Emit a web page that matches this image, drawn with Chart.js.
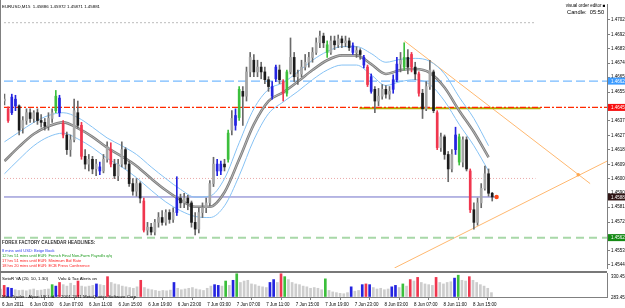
<!DOCTYPE html>
<html>
<head>
<meta charset="utf-8">
<script src="https://cdn.jsdelivr.net/npm/chart.js@4.4.0/dist/chart.umd.min.js"></script>
<style>
  html, body { margin: 0; padding: 0; background: #fff; }
  #wrap { position: relative; width: 625px; height: 308px; overflow: hidden; background: #fff; }
  canvas { position: absolute; left: 0; }
  #main { top: 0; }
  #vol { top: 272px; }
  .t { position: absolute; white-space: nowrap; font-family: "Liberation Sans", Arial, sans-serif;
       font-size: 9px; line-height: 9px; transform: scale(0.5); transform-origin: 0 0; color: #000; }
  .r { transform-origin: 100% 0; }
  .line { position: absolute; background: #808080; }
</style>
</head>
<body>
<div id="wrap">
  <canvas id="main" width="625" height="272"></canvas>
  <canvas id="vol" width="625" height="36"></canvas>
  <div class="line" style="left:0;top:0;width:1px;height:297px;"></div>
  <div class="line" style="left:0;top:271px;width:607px;height:2px;background:#787878;"></div>

  <div class="t" style="left:2px;top:3.5px;font-size:8.8px;">EURUSD,M15&nbsp; 1.45886 1.45972 1.45871 1.45881</div>
  <div class="t r" style="right:20px;top:3px;">visual order editor &#9632;</div>
  <div class="t r" style="right:21px;top:8.6px;font-size:11.4px;line-height:11.4px;">Candle:&nbsp; 05:50</div>

  <div class="t" style="left:2px;top:239.8px;font-weight:bold;color:#333;">FOREX FACTORY CALENDAR HEADLINES:</div>
  <div class="t" style="left:2px;top:248px;font-size:8px;color:#2a3cf0;">8 mins until USD: Beige Book</div>
  <div class="t" style="left:2px;top:253px;font-size:8px;color:#1a9a1a;">12 hrs 51 mins until EUR: French Final Non-Farm Payrolls q/q</div>
  <div class="t" style="left:2px;top:258px;font-size:8px;color:#ff1a1a;">17 hrs 51 mins until EUR: Minimum Bid Rate</div>
  <div class="t" style="left:2px;top:263px;font-size:8px;color:#ff1a1a;">18 hrs 20 mins until EUR: ECB Press Conference</div>

  <div class="t" style="left:2px;top:275.8px;font-size:8.8px;">SetoR VA (20, 10, 1.30)</div>
  <div class="t" style="left:58px;top:275.8px;font-size:8.8px;">Volu &amp; Tax Alerts on</div>
  <div class="t" style="left:2px;top:293.8px;font-size:8.8px;">MetaTrader - Alpari UK Ltd. &copy; 2001-2011 MetaQuotes Software Corp.</div>
  <div class="t" style="left:611px;top:273.8px;">330.45</div>
  <div class="t" style="left:611px;top:294.5px;">283.45</div>
</div>

<script>
// price axis labels as shown by the terminal
const priceTicks = [1.47020, 1.46925, 1.46835, 1.46740, 1.46650, 1.46555, 1.46460, 1.46370, 1.46275,
  1.46185, 1.46090, 1.46000, 1.45905, 1.45815, 1.45720, 1.45625, 1.45535, 1.45445];

// time axis: hours from 6 Jun 00:00
const timeTicks = [-0.8, 3, 7, 11, 15, 19, 23, 27, 31, 35, 39, 43, 47, 51, 55, 59, 63];
const timeLabels = ["6 Jun 2011", "6 Jun 03:00", "6 Jun 07:00", "6 Jun 11:00", "6 Jun 15:00", "6 Jun 19:00",
  "6 Jun 23:00", "7 Jun 03:00", "7 Jun 07:00", "7 Jun 11:00", "7 Jun 15:00", "7 Jun 19:00", "7 Jun 23:00",
  "8 Jun 03:00", "8 Jun 07:00", "8 Jun 11:00", "8 Jun 15:00"];

// candles, one every half hour starting 5 Jun 23:00
const firstBarHour = -1;
const barStep = 0.5;

const open = [
  1.46497, 1.46447, 1.46422, 1.46509, 1.46466, 1.46323, 1.46372, 1.46422, 1.46385, 1.46422,
  1.46372, 1.46360, 1.46335, 1.46385, 1.46435, 1.46516, 1.46354, 1.46279, 1.46185, 1.46248,
  1.46422, 1.46341, 1.46142, 1.46092, 1.46123, 1.46061, 1.46074, 1.46048, 1.46123, 1.46185,
  1.46092, 1.46017, 1.46092, 1.46185, 1.46092, 1.45967, 1.45918, 1.45967, 1.45855, 1.45668,
  1.45687, 1.45656, 1.45718, 1.45749, 1.45718, 1.45781, 1.45737, 1.45781, 1.45874, 1.45843,
  1.45874, 1.45843, 1.45718, 1.45675, 1.45781, 1.45812, 1.45843, 1.45967, 1.46092, 1.46048,
  1.46092, 1.46123, 1.46310, 1.46404, 1.46391, 1.46559, 1.46528, 1.46684, 1.46759, 1.46684,
  1.46715, 1.46684, 1.46634, 1.46590, 1.46640, 1.46696, 1.46622, 1.46547, 1.46684, 1.46777,
  1.46653, 1.46671, 1.46715, 1.46746, 1.46777, 1.46809, 1.46871, 1.46914, 1.46858, 1.46809,
  1.46883, 1.46858, 1.46896, 1.46871, 1.46883, 1.46852, 1.46809, 1.46821, 1.46777, 1.46715,
  1.46653, 1.46572, 1.46497, 1.46528, 1.46572, 1.46541, 1.46572, 1.46634, 1.46734, 1.46715,
  1.46777, 1.46796, 1.46715, 1.46671, 1.46547, 1.46447, 1.46590, 1.46684, 1.46422, 1.46198,
  1.46267, 1.46154, 1.46061, 1.46185, 1.46267, 1.46105, 1.46248, 1.46048, 1.45799, 1.45718,
  1.45843, 1.45936, 1.46030, 1.45905];

const high = [
  1.46541, 1.46460, 1.46541, 1.46534, 1.46472, 1.46397, 1.46447, 1.46447, 1.46435, 1.46447,
  1.46410, 1.46385, 1.46422, 1.46447, 1.46565, 1.46534, 1.46372, 1.46298, 1.46279, 1.46509,
  1.46497, 1.46360, 1.46185, 1.46154, 1.46142, 1.46123, 1.46105, 1.46154, 1.46235, 1.46229,
  1.46123, 1.46123, 1.46235, 1.46198, 1.46111, 1.45999, 1.45999, 1.45979, 1.45874, 1.45718,
  1.45712, 1.45737, 1.45781, 1.45793, 1.45799, 1.45799, 1.45812, 1.46011, 1.45899, 1.45905,
  1.45892, 1.45855, 1.45781, 1.45812, 1.45843, 1.45874, 1.45986, 1.46136, 1.46123, 1.46111,
  1.46123, 1.46310, 1.46435, 1.46447, 1.46590, 1.46590, 1.46715, 1.46809, 1.46796, 1.46759,
  1.46746, 1.46715, 1.46653, 1.46622, 1.46728, 1.46728, 1.46634, 1.46696, 1.46902, 1.46809,
  1.46696, 1.46759, 1.46796, 1.46809, 1.46840, 1.46902, 1.46946, 1.46933, 1.46883, 1.46914,
  1.46914, 1.46921, 1.46914, 1.46914, 1.46902, 1.46871, 1.46846, 1.46833, 1.46790, 1.46728,
  1.46671, 1.46590, 1.46578, 1.46603, 1.46597, 1.46590, 1.46665, 1.46777, 1.46809, 1.46871,
  1.46827, 1.46809, 1.46746, 1.46684, 1.46572, 1.46622, 1.46759, 1.46696, 1.46435, 1.46291,
  1.46279, 1.46173, 1.46185, 1.46329, 1.46285, 1.46267, 1.46267, 1.46061, 1.45843, 1.45874,
  1.45967, 1.46080, 1.46061, 1.45911];

const low = [
  1.46472, 1.46360, 1.46410, 1.46435, 1.46279, 1.46291, 1.46347, 1.46360, 1.46360, 1.46347,
  1.46329, 1.46310, 1.46310, 1.46360, 1.46422, 1.46397, 1.46260, 1.46154, 1.46142, 1.46235,
  1.46323, 1.46123, 1.46061, 1.46048, 1.46030, 1.46017, 1.46024, 1.46036, 1.46105, 1.46074,
  1.45999, 1.45986, 1.46074, 1.46061, 1.45948, 1.45892, 1.45886, 1.45843, 1.45656, 1.45637,
  1.45637, 1.45637, 1.45687, 1.45700, 1.45700, 1.45712, 1.45718, 1.45762, 1.45812, 1.45812,
  1.45799, 1.45687, 1.45637, 1.45650, 1.45749, 1.45781, 1.45824, 1.45948, 1.46017, 1.46024,
  1.46048, 1.46105, 1.46279, 1.46310, 1.46372, 1.46341, 1.46497, 1.46653, 1.46653, 1.46653,
  1.46640, 1.46609, 1.46559, 1.46509, 1.46622, 1.46609, 1.46497, 1.46528, 1.46671, 1.46622,
  1.46603, 1.46653, 1.46696, 1.46715, 1.46746, 1.46796, 1.46840, 1.46840, 1.46777, 1.46796,
  1.46827, 1.46840, 1.46840, 1.46846, 1.46821, 1.46796, 1.46777, 1.46765, 1.46709, 1.46590,
  1.46547, 1.46422, 1.46466, 1.46509, 1.46516, 1.46509, 1.46547, 1.46622, 1.46684, 1.46696,
  1.46671, 1.46684, 1.46634, 1.46528, 1.46385, 1.46435, 1.46572, 1.46422, 1.46185, 1.46173,
  1.46123, 1.45979, 1.46042, 1.46154, 1.46086, 1.46074, 1.46048, 1.45781, 1.45675, 1.45700,
  1.45812, 1.45924, 1.45886, 1.45855];

const close = [
  1.46509, 1.46372, 1.46522, 1.46466, 1.46310, 1.46372, 1.46422, 1.46385, 1.46422, 1.46372,
  1.46360, 1.46335, 1.46385, 1.46422, 1.46528, 1.46422, 1.46279, 1.46185, 1.46248, 1.46435,
  1.46341, 1.46142, 1.46092, 1.46123, 1.46061, 1.46092, 1.46048, 1.46123, 1.46204, 1.46092,
  1.46017, 1.46092, 1.46185, 1.46092, 1.45967, 1.45918, 1.45967, 1.45874, 1.45668, 1.45687,
  1.45656, 1.45718, 1.45749, 1.45718, 1.45781, 1.45737, 1.45781, 1.45874, 1.45843, 1.45874,
  1.45843, 1.45718, 1.45675, 1.45781, 1.45812, 1.45843, 1.45967, 1.46092, 1.46048, 1.46092,
  1.46074, 1.46291, 1.46385, 1.46341, 1.46572, 1.46528, 1.46684, 1.46777, 1.46684, 1.46715,
  1.46684, 1.46634, 1.46590, 1.46528, 1.46715, 1.46634, 1.46547, 1.46684, 1.46777, 1.46653,
  1.46671, 1.46715, 1.46746, 1.46777, 1.46809, 1.46871, 1.46914, 1.46871, 1.46809, 1.46883,
  1.46858, 1.46896, 1.46871, 1.46883, 1.46840, 1.46809, 1.46821, 1.46796, 1.46728, 1.46603,
  1.46559, 1.46497, 1.46528, 1.46572, 1.46541, 1.46559, 1.46634, 1.46734, 1.46759, 1.46777,
  1.46715, 1.46715, 1.46671, 1.46547, 1.46447, 1.46590, 1.46696, 1.46435, 1.46198, 1.46267,
  1.46154, 1.46061, 1.46154, 1.46279, 1.46105, 1.46248, 1.46061, 1.45799, 1.45718, 1.45843,
  1.45936, 1.46030, 1.45905, 1.45881];

// volume analysis colour of each bar: n normal, b blue, g green, r red
const barColor = ("nrbbnnnnnn" + "nnnngbrnnn" + "nrnnnnbnnr" + "nnnnnnnnrn" + "nnnnnnnbnn" +
  "nnnnnnnnbb" + "ngnbgnnnnn" + "nnnbbnrgnn" + "nnnnnnnngn" + "nnnnnbnnbr" +
  "bnnnnnbbng" + "nrnrnnnnrn" + "nnnbgnnrnn" + "nnnn").split("");

const volume = [
  110, 160, 130, 120, 100, 90, 95, 85, 100, 110,
  90, 95, 105, 110, 170, 150, 200, 170, 150, 190,
  160, 220, 150, 140, 150, 160, 180, 170, 160, 280,
  200, 180, 170, 150, 140, 130, 120, 140, 230, 130,
  110, 100, 90, 80, 90, 85, 95, 200, 120, 100,
  110, 120, 130, 110, 100, 90, 120, 150, 170, 160,
  150, 220, 160, 230, 320, 200, 220, 230, 180, 170,
  150, 140, 130, 200, 240, 200, 320, 280, 240, 200,
  180, 170, 150, 140, 120, 130, 120, 100, 250, 90,
  70, 60, 50, 45, 60, 140, 80, 90, 170, 180,
  170, 130, 110, 120, 100, 110, 140, 160, 130, 180,
  150, 240, 220, 270, 200, 180, 170, 160, 270, 200,
  180, 200, 210, 260, 300, 230, 220, 280, 230, 200,
  170, 150, 120, 60];

// moving average and its bands, read every two hours
const maHours = [-1, 1, 3, 5, 7, 9, 11, 13, 15, 17, 19, 21, 23, 25, 27, 29, 31, 33, 35, 37, 39, 41, 43,
  45, 47, 49, 51, 53, 55, 57, 59, 61, 63, 65];
const maMid = [1.46111, 1.46204, 1.46285, 1.46335, 1.46360, 1.46323, 1.46267, 1.46198, 1.46142, 1.46080,
  1.45999, 1.45924, 1.45862, 1.45818, 1.45818, 1.45911, 1.46123, 1.46347, 1.46497, 1.46553, 1.46622,
  1.46696, 1.46759, 1.46790, 1.46790, 1.46734, 1.46671, 1.46696, 1.46703, 1.46678, 1.46584, 1.46435,
  1.46298, 1.46136];
const maUpper = [1.46235, 1.46298, 1.46360, 1.46404, 1.46422, 1.46391, 1.46329, 1.46260, 1.46210, 1.46154,
  1.46074, 1.45999, 1.45930, 1.45880, 1.45887, 1.45999, 1.46229, 1.46447, 1.46572, 1.46615, 1.46684,
  1.46759, 1.46815, 1.46846, 1.46846, 1.46802, 1.46746, 1.46765, 1.46771, 1.46752, 1.46671, 1.46522,
  1.46385, 1.46210];
const maLower = [1.46030, 1.46123, 1.46210, 1.46267, 1.46291, 1.46254, 1.46198, 1.46129, 1.46074, 1.46005,
  1.45924, 1.45849, 1.45793, 1.45756, 1.45749, 1.45824, 1.46017, 1.46248, 1.46416, 1.46491, 1.46559,
  1.46634, 1.46696, 1.46728, 1.46728, 1.46665, 1.46597, 1.46622, 1.46634, 1.46603, 1.46497, 1.46347,
  1.46210, 1.46048];

// horizontal levels and drawn objects
const levelTop = 1.47000;
const levelBlue = 1.46625;
const levelRed = 1.46456;
const levelOlive = 1.46450;
const levelRound = 1.46000;
const bidPrice = 1.45881;
const levelGreen = 1.45620;
const dottedEndHour = 71.4;
const oliveHours = [47.4, 72.1];
const trendDownHours = [53.52, 78.85];
const trendDownPrices = [1.46883, 1.45967];
const trendUpHours = [52.17, 81.15];
const trendUpPrices = [1.45425, 1.46111];
const crossPoint = { x: 77.23, y: 1.46024 };
const lastPoint = { x: 66.1, y: 1.45881 };

const xMin = -1.063, xMax = 81.15;
const yMin = 1.45425, yMax = 1.47120;
const volMax = 330.45;

const barHours = close.map((c, i) => firstBarHour + i * barStep);
const colorOf = { b: "#2424e0", g: "#3cbf3c", r: "#f0364e" };
const font = { family: "Liberation Sans", size: 4.5 };

function bodyColor(i) {
  if (barColor[i] !== "n") return colorOf[barColor[i]];
  return close[i] >= open[i] ? "#a6a6a6" : "#1c1c1c";
}
function wickColor(i) {
  return barColor[i] !== "n" ? colorOf[barColor[i]] : "#6a6a6a";
}
function hLine(value, x0, x1, color, width, dash) {
  return {
    type: "line", data: [{ x: x0, y: value }, { x: x1, y: value }],
    borderColor: color, borderWidth: width, borderDash: dash, pointRadius: 0, order: 6
  };
}
function band(values, color, width, order) {
  return {
    type: "line", data: maHours.map((h, i) => ({ x: h, y: values[i] })),
    borderColor: color, borderWidth: width, pointRadius: 0, cubicInterpolationMode: "monotone", order: order
  };
}

const priceBoxes = [
  { v: levelBlue, c: "#3d9cff" },
  { v: levelRed, c: "#f81010" },
  { v: bidPrice, c: "#2e1414" },
  { v: levelGreen, c: "#148a14" }
];

const boxPlugin = {
  id: "priceBoxes",
  afterDraw(chart) {
    const ctx = chart.ctx;
    const y = chart.scales.y;
    const right = chart.chartArea.right;
    ctx.save();
    priceBoxes.forEach((b) => {
      const py = y.getPixelForValue(b.v);
      ctx.fillStyle = b.c;
      ctx.fillRect(right + 1, py - 3.5, 625 - right, 7);
      ctx.fillStyle = "#fff";
      ctx.font = "4.5px 'Liberation Sans'";
      ctx.textBaseline = "middle";
      ctx.fillText(b.v.toFixed(5), right + 4, py + 0.5);
    });
    ctx.restore();
  }
};

new Chart(document.getElementById("main"), {
  type: "bar",
  data: {
    datasets: [
      {
        data: barHours.map((x, i) => ({ x: x, y: [open[i], close[i]] })),
        backgroundColor: barHours.map((x, i) => bodyColor(i)),
        barThickness: 2, minBarLength: 1, grouped: false, order: 1
      },
      {
        data: barHours.map((x, i) => ({ x: x, y: [low[i], high[i]] })),
        backgroundColor: barHours.map((x, i) => wickColor(i)),
        barThickness: 1, grouped: false, order: 2
      },
      band(maMid, "#c4c4c4", 0.8, 3),
      band(maMid, "#7e7e7e", 2.6, 4),
      band(maUpper, "#86c2f4", 1, 5),
      band(maLower, "#86c2f4", 1, 5),
      hLine(levelTop, xMin, dottedEndHour, "#bcbcbc", 1, [2, 2]),
      hLine(levelBlue, xMin, xMax, "#52a8ff", 1, [9, 4]),
      hLine(levelRed, xMin, xMax, "#ff2a00", 1.2, [6, 2, 2, 2]),
      hLine(levelRound, xMin, dottedEndHour, "#eaa8a8", 1, [1, 2]),
      hLine(bidPrice, xMin, lastPoint.x, "#7070c8", 1, []),
      hLine(levelGreen, xMin, xMax, "#a8d8a8", 2, [8, 5]),
      hLine(levelOlive, oliveHours[0], oliveHours[1], "#b8a800", 2, []),
      {
        type: "line", data: trendDownHours.map((h, i) => ({ x: h, y: trendDownPrices[i] })),
        borderColor: "#ffb870", borderWidth: 1, pointRadius: 0, order: 6
      },
      {
        type: "line", data: trendUpHours.map((h, i) => ({ x: h, y: trendUpPrices[i] })),
        borderColor: "#ffb870", borderWidth: 1, pointRadius: 0, order: 6
      },
      {
        type: "line", data: [crossPoint], showLine: false,
        pointRadius: 1.8, pointBackgroundColor: "#ffa850", pointBorderWidth: 0, order: 0
      },
      {
        type: "line", data: [lastPoint], showLine: false,
        pointRadius: 2.2, pointBackgroundColor: "#ff4a1a", pointBorderWidth: 0, order: 0
      }
    ]
  },
  options: {
    responsive: false,
    animation: false,
    events: [],
    layout: { padding: 0 },
    plugins: { legend: { display: false }, tooltip: { enabled: false } },
    scales: {
      x: { type: "linear", min: xMin, max: xMax, offset: false, display: false },
      y: {
        type: "linear", position: "right", min: yMin, max: yMax,
        afterBuildTicks: (s) => { s.ticks = priceTicks.map((v) => ({ value: v })); },
        afterFit: (s) => { s.width = 18; s.paddingTop = 0; s.paddingBottom = 0; },
        ticks: { autoSkip: false, padding: 1, font: font, color: "#000", callback: (v) => v.toFixed(5) },
        grid: { drawOnChartArea: false, tickLength: 3, color: "#808080" },
        border: { color: "#808080" }
      }
    }
  },
  plugins: [boxPlugin]
});

new Chart(document.getElementById("vol"), {
  type: "bar",
  data: {
    datasets: [{
      data: barHours.map((x, i) => ({ x: x, y: volume[i] })),
      backgroundColor: barHours.map((x, i) => barColor[i] !== "n" ? colorOf[barColor[i]] : "#cdcdcd"),
      barThickness: 2, grouped: false
    }]
  },
  options: {
    responsive: false,
    animation: false,
    events: [],
    layout: { padding: { top: 1 } },
    plugins: { legend: { display: false }, tooltip: { enabled: false } },
    scales: {
      x: {
        type: "linear", min: xMin, max: xMax, offset: false, position: "bottom",
        afterBuildTicks: (s) => { s.ticks = timeTicks.map((v) => ({ value: v })); },
        afterFit: (s) => { s.height = 11; s.paddingLeft = 0; s.paddingRight = 0; },
        ticks: { autoSkip: false, maxRotation: 0, align: "start", padding: 2, font: font, color: "#000",
          callback: (v, i) => timeLabels[i] },
        grid: { drawOnChartArea: false, tickLength: 3, color: "#808080" },
        border: { color: "#808080" }
      },
      y: {
        type: "linear", position: "right", min: 0, max: volMax,
        afterFit: (s) => { s.width = 18; s.paddingTop = 0; s.paddingBottom = 0; },
        ticks: { display: false },
        grid: { drawOnChartArea: false, drawTicks: false },
        border: { color: "#808080" }
      }
    }
  }
});
</script>
</body>
</html>
